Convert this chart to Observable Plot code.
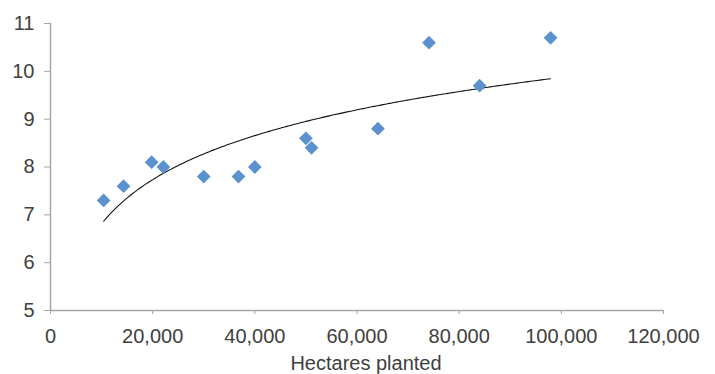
<!DOCTYPE html>
<html>
<head>
<meta charset="utf-8">
<script src="https://cdn.jsdelivr.net/npm/d3@7"></script>
<script src="https://cdn.jsdelivr.net/npm/@observablehq/plot@0.6"></script>
<style>
  html, body { margin: 0; padding: 0; background: #fff; }
</style>
</head>
<body>
<div id="chart"></div>
<script>
const hectares = [10400, 14300, 19800, 22100, 30000, 36800, 40000, 50000, 51100, 64100, 74100, 84000, 97900];
const yieldValues = [7.3, 7.6, 8.1, 8.0, 7.8, 7.8, 8.0, 8.6, 8.4, 8.8, 10.6, 9.7, 10.7];
const xTicks = [0, 20000, 40000, 60000, 80000, 100000, 120000];
const yTicks = [5, 6, 7, 8, 9, 10, 11];
const xLabel = "Hectares planted";

const points = hectares.map((x, i) => ({x, y: yieldValues[i]}));

// Logarithmic trendline (least squares on ln x), like the spreadsheet trendline
const L = hectares.map(Math.log);
const mL = d3.mean(L), mY = d3.mean(yieldValues);
const a = d3.sum(L, (l, i) => (l - mL) * (yieldValues[i] - mY)) / d3.sum(L, l => (l - mL) ** 2);
const b = mY - a * mL;
const [x0, x1] = d3.extent(hectares);
const trend = d3.range(0, 201).map(k => {
  const x = x0 + (x1 - x0) * k / 200;
  return {x, y: a * Math.log(x) + b};
});

const chart = Plot.plot({
  width: 715,
  height: 374,
  marginLeft: 50,
  marginRight: 52,
  marginTop: 23,
  marginBottom: 64,
  style: {fontFamily: "Liberation Sans, Arial, sans-serif", fontSize: "20px", color: "#404040", background: "#fff"},
  x: {domain: [0, 120000]},
  y: {domain: [5, 11]},
  marks: [
    Plot.axisX({ticks: xTicks, tickFormat: d3.format(","), tickSize: 4, tickPadding: 14, stroke: "#a6a6a6", fill: "#404040", label: null, fontSize: 20}),
    Plot.axisY({ticks: yTicks, tickFormat: d3.format("d"), tickSize: 6, tickPadding: 10, stroke: "#a6a6a6", fill: "#404040", label: null, fontSize: 20}),
    Plot.ruleY([5], {stroke: "#a6a6a6", strokeWidth: 1.5}),
    Plot.ruleX([0], {stroke: "#a6a6a6", strokeWidth: 1.5}),
    Plot.line(trend, {x: "x", y: "y", stroke: "#111", strokeWidth: 1.1}),
    Plot.dot(points, {x: "x", y: "y", symbol: "diamond2", r: 6.2, fill: "#5b92cd", stroke: "none"}),
    Plot.text([xLabel], {frameAnchor: "bottom", dy: 59, dx: 9, fill: "#404040", fontSize: 20})
  ]
});
document.getElementById("chart").appendChild(chart);
</script>
</body>
</html>
